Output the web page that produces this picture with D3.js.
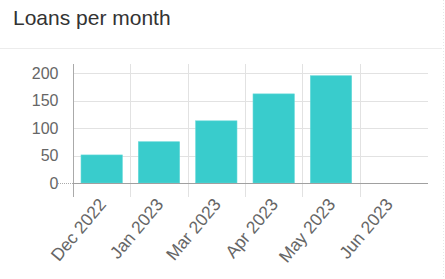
<!DOCTYPE html>
<html>
<head>
<meta charset="utf-8">
<script src="https://cdn.jsdelivr.net/npm/d3@7"></script>
<style>
  body { margin: 0; background: #fff; }
  svg { display: block; font-family: "Liberation Sans", Arial, sans-serif; }
</style>
</head>
<body>
<div id="chart"></div>
<script>
var months = ["Dec 2022", "Jan 2023", "Mar 2023", "Apr 2023", "May 2023", "Jun 2023"];
var loans = [51, 75, 113, 162, 195, 0];
var yTicks = [0, 50, 100, 150, 200];

var width = 445, height = 279;
var plotLeft = 73, plotRight = 417, axisEnd = 428;
var plotTop = 64, plotBottom = 183;

var svg = d3.select("#chart").append("svg")
    .attr("width", width)
    .attr("height", height);

// card header
svg.append("text")
    .attr("x", 13)
    .attr("y", 25)
    .attr("fill", "#333")
    .style("font-size", "21px")
    .text("Loans per month");
svg.append("line")
    .attr("x1", 0).attr("x2", 442)
    .attr("y1", 48.5).attr("y2", 48.5)
    .attr("stroke", "#ececec");
svg.append("line")
    .attr("x1", 443.5).attr("x2", 443.5)
    .attr("y1", 0).attr("y2", height)
    .attr("stroke", "#e6e6e6")
    .attr("stroke-dasharray", "1,2");

var x = d3.scaleBand()
    .domain(months)
    .range([plotLeft, plotRight])
    .paddingInner(0.28)
    .paddingOuter(0.14);

var y = d3.scaleLinear()
    .domain([0, 200])
    .range([plotBottom, 73]);

var step = (plotRight - plotLeft) / months.length;

// horizontal grid
var grid = svg.append("g");
grid.selectAll("line.h")
    .data(yTicks.slice(1))
    .enter().append("line")
    .attr("class", "h")
    .attr("x1", plotLeft).attr("x2", axisEnd)
    .attr("y1", d => Math.round(y(d)) + 0.5)
    .attr("y2", d => Math.round(y(d)) + 0.5)
    .attr("stroke", "#e2e2e2");

// vertical grid at category edges
grid.selectAll("line.v")
    .data(months.slice(1))
    .enter().append("line")
    .attr("class", "v")
    .attr("x1", (d, i) => Math.round(plotLeft + step * (i + 1)) + 0.5)
    .attr("x2", (d, i) => Math.round(plotLeft + step * (i + 1)) + 0.5)
    .attr("y1", plotTop).attr("y2", plotBottom + 14)
    .attr("stroke", "#e2e2e2");

// bars
svg.append("g").selectAll("rect")
    .data(loans)
    .enter().append("rect")
    .attr("x", (d, i) => x(months[i]))
    .attr("y", d => y(d))
    .attr("width", x.bandwidth())
    .attr("height", d => y(0) - y(d))
    .attr("fill", "#39cccc")
    .attr("stroke", "#5fd8d8")
    .attr("stroke-width", 0.6);

// y axis
var yAxis = d3.axisLeft(y)
    .tickValues(yTicks)
    .tickSize(0)
    .tickPadding(15);
var ya = svg.append("g")
    .attr("transform", "translate(" + (plotLeft + 0.5) + ",0)")
    .call(yAxis);
ya.select(".domain").remove();
ya.selectAll("text")
    .attr("fill", "#666")
    .style("font-size", "16px")
    .style("font-family", "Liberation Sans, Arial, sans-serif");
svg.append("line")
    .attr("x1", plotLeft + 0.5).attr("x2", plotLeft + 0.5)
    .attr("y1", plotTop).attr("y2", plotBottom + 14)
    .attr("stroke", "#aaa");
svg.append("line")
    .attr("x1", 58).attr("x2", plotLeft)
    .attr("y1", plotBottom + 0.5).attr("y2", plotBottom + 0.5)
    .attr("stroke", "#aaa")
    .attr("stroke-dasharray", "1,1");

// x axis
svg.append("line")
    .attr("x1", plotLeft).attr("x2", axisEnd)
    .attr("y1", plotBottom + 0.5).attr("y2", plotBottom + 0.5)
    .attr("stroke", "#a0a0a0");

var xAxis = d3.axisBottom(x).tickSize(0).tickPadding(0);
var xa = svg.append("g")
    .attr("transform", "translate(0," + (plotBottom + 14) + ")")
    .call(xAxis);
xa.select(".domain").remove();
xa.selectAll("text")
    .attr("fill", "#666")
    .style("font-size", "17.5px")
    .style("font-family", "Liberation Sans, Arial, sans-serif")
    .attr("text-anchor", "end")
    .attr("dy", "0.7em")
    .attr("transform", "translate(-4,0) rotate(-50)");
</script>
</body>
</html>
